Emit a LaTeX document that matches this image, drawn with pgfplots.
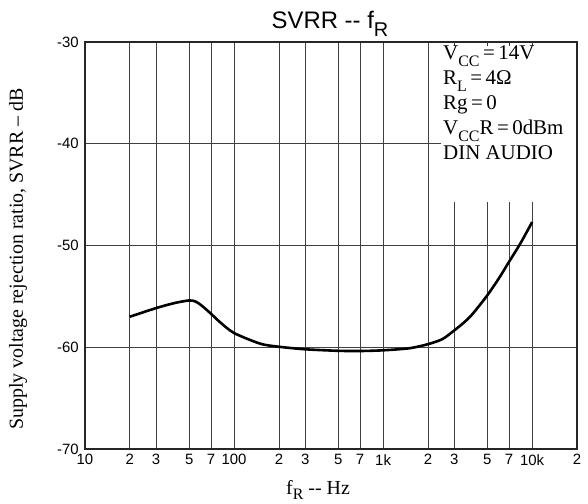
\documentclass[border=0pt]{standalone}
\usepackage{pgfplots}
\pgfplotsset{compat=1.18}
\usepackage{fontspec}
\setmainfont{Liberation Serif}
\newfontfamily\hv{Liberation Sans}
\newcommand\sub[1]{\raisebox{-0.3em}{\fontsize{16}{16}\selectfont #1}}
\begin{document}
\begin{tikzpicture}
\path[use as bounding box] (-85bp,-55bp) rectangle (503bp,449bp);
\begin{axis}[
  at={(0,0)}, anchor=south west, scale only axis,
  width=492bp, height=407bp,
  xmode=log, log basis x=10,
  xmin=10, xmax=20000, ymin=-70, ymax=-30,
  xtick={10,20,30,50,70,100,200,300,500,700,1000,2000,3000,5000,7000,10000,20000},
  xticklabels={\raisebox{-5bp}{10},2,3,5,7,\raisebox{-5bp}{100},2,3,5,7,\raisebox{-5bp}{1k},2,3,5,7,\raisebox{-5bp}{10k},2},
  minor xtick={},
  ytick={-70,-60,-50,-40,-30},
  yticklabels={-70,-60,-50,-40,-30},
  xticklabel style={font=\hv\fontsize{15}{15}\selectfont, anchor=north, inner sep=0pt, yshift=-5bp},
  yticklabel style={font=\hv\fontsize{15}{15}\selectfont, anchor=east, inner sep=0pt, xshift=-6bp},
  tick style={draw=none},
  grid=major,
  major grid style={black!75, line width=0.8bp},
  axis line style={black!85, line width=1.4bp},
]
\addplot[black, line width=2.6bp, smooth, tension=0.45] coordinates {
(20,-57.0) (30,-56.15) (40,-55.65) (50,-55.4) (55,-55.5) (60,-55.85) (70,-56.7) (80,-57.5)
(100,-58.6) (150,-59.65) (200,-59.95) (300,-60.2) (500,-60.35) (700,-60.37) (1000,-60.3)
(1500,-60.1) (2000,-59.7) (2500,-59.2) (3000,-58.35) (3500,-57.55) (4000,-56.7) (5000,-54.9) (6000,-53.2) (7000,-51.6)
(8300,-49.85) (10000,-47.7)
};
\end{axis}
% condition box
\fill[white] (356bp,247bp) rectangle (491.2bp,406.2bp);
\foreach \xx in {369.2,402.3,424.05,447.1}{
  \draw[black!80, line width=0.8bp] (\xx bp,407bp) -- ++(0,-4bp);
}
\begin{scope}[every node/.style={anchor=base west, inner sep=0pt, font=\fontsize{21}{21}\selectfont}]
\node at (358bp,389bp) {V\sub{CC}\,=\,14V};
\node at (358bp,364bp) {R\sub{L}\,=\,4Ω};
\node at (358bp,339bp) {Rg\,=\,0};
\node at (358bp,314bp) {V\sub{CC}R\,=\,0dBm};
\node at (358bp,289bp) {DIN AUDIO};
\end{scope}
% title
\node[anchor=base, inner sep=0pt, font=\hv\fontsize{24}{24}\selectfont] at (245bp,420bp)
  {SVRR -- f\raisebox{-0.3em}{\fontsize{20}{20}\selectfont R}};
% x label
\node[anchor=base, inner sep=0pt, font=\fontsize{20}{20}\selectfont] at (233bp,-45bp)
  {f\sub{R} -{}- Hz};
% y label
\node[rotate=90, anchor=center, inner sep=0pt, font=\fontsize{20}{20}\selectfont] at (-67bp,190bp)
  {Supply voltage rejection ratio, SVRR -- dB};
\end{tikzpicture}
\end{document}
